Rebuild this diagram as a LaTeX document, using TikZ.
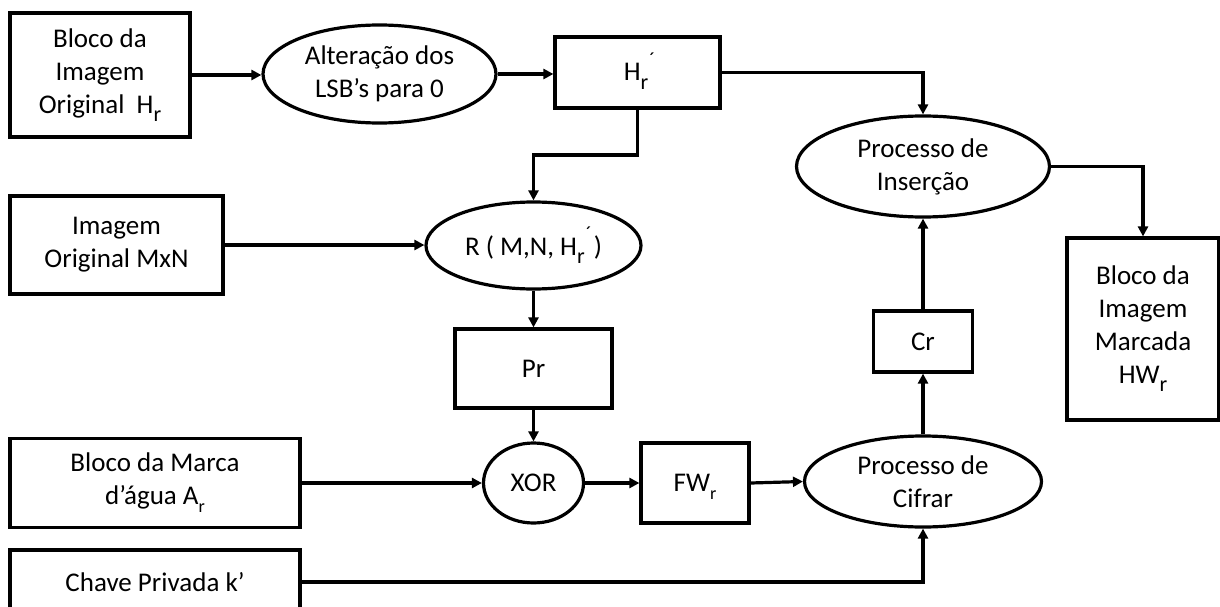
\documentclass[tikz,border=0pt]{standalone}
\usepackage{fontspec}
\setmainfont{Carlito}
\usetikzlibrary{shapes.geometric,arrows.meta}

% lowered subscript r and the r-with-prime mark
\newcommand\sbr{\raisebox{-0.3em}{\fontsize{22pt}{22pt}\selectfont r}}
\newcommand\hrp{H\sbr\llap{\raisebox{0.55em}{\fontsize{20pt}{20pt}\selectfont ´}\hspace{-7pt}}\hspace{3pt}}
\newcommand\sbs{\raisebox{-0.3em}{\fontsize{18pt}{18pt}\selectfont r}}

\tikzset{
  blk/.style={draw, line width=3.2pt, rectangle, inner sep=0pt, align=center,
              font=\fontsize{27pt}{33pt}\selectfont},
  oval/.style={blk, ellipse},
  capline/.style={text height=17pt, text depth=0pt},
  flow/.style={line width=3.2pt, -{Triangle[length=10pt,width=10pt]}},
}

\begin{document}
\begin{tikzpicture}[x=1pt,y=-1pt]
\useasboundingbox (0,0) rectangle (1220,607);
\clip (0,0) rectangle (1220,607);
\fill[white] (0,0) rectangle (1220,607);

% blocks of the top row
\node[blk, minimum width=180pt, minimum height=124pt] (A) at (100,75)
  {Bloco da\\Imagem\\Original~~H\sbr};
\node[oval, minimum width=233pt, minimum height=98pt] (alt) at (379.5,74)
  {Alteração dos\\LSB’s para 0};
\node[blk, capline, minimum width=165pt, minimum height=71pt] (hr) at (637.5,72.5) {\hrp};

% insertion branch
\node[oval, minimum width=253pt, minimum height=101pt] (ins) at (923,166.5)
  {Processo de\\Inserção};
\node[blk, minimum width=152pt, minimum height=182pt] (hw) at (1143,329)
  {Bloco da\\Imagem\\Marcada\\HW\sbr};
\node[blk, minimum width=99pt, minimum height=61pt] (cr) at (923,341.5) {Cr};
\node[oval, minimum width=237pt, minimum height=91pt] (cif) at (923,481.5)
  {Processo de\\Cifrar};

% permutation branch
\node[blk, minimum width=213pt, minimum height=98pt] (mxn) at (116.5,245)
  {Imagem\\Original MxN};
\node[oval, minimum width=215pt, minimum height=87pt] (R) at (533.5,245.5)
  {R ( M,N, \hrp\ )};
\node[blk, minimum width=157pt, minimum height=79pt] (pr) at (533.5,368.5) {Pr};
\node[oval, minimum width=100pt, minimum height=80pt] (xor) at (533.5,483) {XOR};
\node[blk, minimum width=290pt, minimum height=89pt] (marca) at (155,483)
  {Bloco da Marca\\d’água A\sbs};
\node[blk, capline, minimum width=108pt, minimum height=80pt] (fw) at (695,483)
  {FW\sbs};
\node[blk, minimum width=290pt, minimum height=64pt] (chave) at (155,582)
  {Chave Privada k’};

% elbow of the feed from the cleared block into R
\coordinate (elbow) at (533.5,155);

% connectors
\draw[flow] (A.east) -- (A.east -| alt.west);
\draw[flow] (alt.east) -- (alt.east -| hr.west);
\draw[flow] (hr.east) -| (ins.north);
\draw[flow] (hr.south) |- (elbow) -- (R.north);
\draw[flow] (mxn.east) -- (mxn.east -| R.west);
\draw[flow] (R.south) -- (pr.north);
\draw[flow] (pr.south) -- (xor.north);
\draw[flow] (marca.east) -- (xor.west);
\draw[flow] (xor.east) -- (fw.west);
\draw[flow] (fw.east) -- (cif.west);
\draw[flow] (chave.east) -| (cif.south);
\draw[flow] (cif.north) -- (cr.south);
\draw[flow] (cr.north) -- (ins.south);
\draw[flow] (ins.east) -| (hw.north);
\end{tikzpicture}
\end{document}
